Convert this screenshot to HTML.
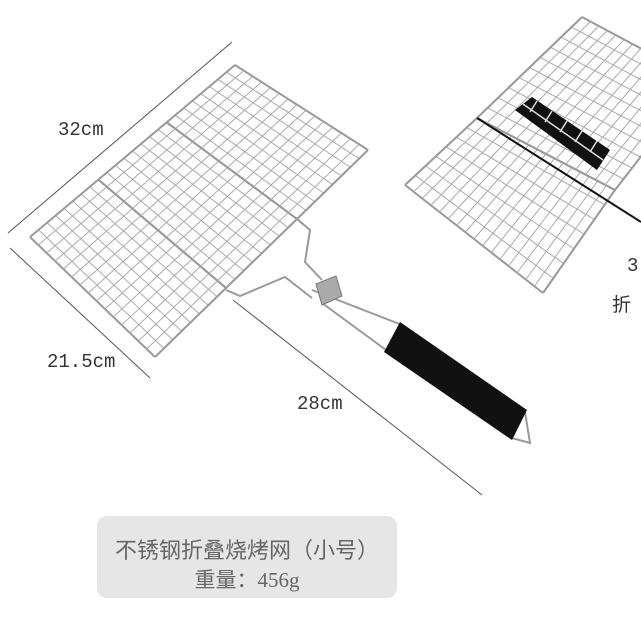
<!DOCTYPE html>
<html><head><meta charset="utf-8"><style>
html,body{margin:0;padding:0;background:#fff;width:641px;height:641px;overflow:hidden}
.t{position:absolute;font-family:"Liberation Mono","Noto Serif CJK SC",monospace;color:#333;font-size:19px}
#box{position:absolute;left:97px;top:516px;width:300px;height:82px;background:#e6e6e6;border-radius:10px}
.c{position:absolute;width:300px;text-align:center;color:#666;font-family:"Liberation Serif","Noto Sans CJK SC",sans-serif}
</style></head><body>
<svg id="s" width="641" height="641" style="position:absolute;left:0;top:0">
<g stroke="#555" stroke-width="1">
<line x1="8" y1="233" x2="232" y2="42"/>
<line x1="10" y1="248" x2="150" y2="378"/>
<line x1="233" y1="300" x2="482" y2="495"/>
</g>
<g id="mesh" fill="none" stroke="#aaa" stroke-width="1"></g>
<g fill="none" stroke="#999" stroke-width="2">
<polyline points="226,290 240,296 285,277 312,298"/>
<polyline points="297,219 310,230 305,262 322,280"/>
<line x1="312" y1="290" x2="402" y2="325"/>
<line x1="322" y1="303" x2="386" y2="350"/>
<polyline points="512,438 530,443 525,412"/>
</g>
<polygon points="316,284 336,276 342,296 322,305" fill="#aaa" stroke="#777"/>
<polygon points="400,322 527,410 512,440 384,352" fill="#111"/>
<polygon points="515,110 532,97 610,150 597,170" fill="#111"/>
<g stroke="#ddd" stroke-width="1.5">
<line x1="523" y1="104" x2="603" y2="160"/>
<line x1="530" y1="112" x2="537" y2="101"/><line x1="545" y1="122" x2="552" y2="111"/>
<line x1="560" y1="132" x2="567" y2="121"/><line x1="575" y1="142" x2="582" y2="131"/>
<line x1="590" y1="152" x2="597" y2="141"/>
</g>
<line x1="477" y1="118" x2="641" y2="222" stroke="#111" stroke-width="2"/>
</svg>
<div class="t" style="left:58px;top:119px">32cm</div>
<div class="t" style="left:47px;top:351px">21.5cm</div>
<div class="t" style="left:297px;top:393px">28cm</div>
<div class="t" style="left:627px;top:255px">3</div>
<div class="t" style="left:612px;top:290px;font-family:'Noto Sans CJK SC',sans-serif">折</div>
<div id="box"></div>
<div class="c" style="left:97px;top:533px;font-size:22px">不锈钢折叠烧烤网（小号）</div>
<div class="c" style="left:97px;top:564px;font-size:21px">重量：456g</div>
<script>
var g=document.getElementById('mesh'),ns='http://www.w3.org/2000/svg';
function L(a,b,w,c){var l=document.createElementNS(ns,'line');l.setAttribute('x1',a[0]);l.setAttribute('y1',a[1]);l.setAttribute('x2',b[0]);l.setAttribute('y2',b[1]);if(w)l.setAttribute('stroke-width',w);if(c)l.setAttribute('stroke',c);g.appendChild(l);}
function P(q,u,v){var x=(1-u)*(1-v)*q[0][0]+u*(1-v)*q[1][0]+u*v*q[2][0]+(1-u)*v*q[3][0];var y=(1-u)*(1-v)*q[0][1]+u*(1-v)*q[1][1]+u*v*q[2][1]+(1-u)*v*q[3][1];return[x,y];}
function M(q,nu,nv){for(var i=0;i<=nu;i++){var u=i/nu;L(P(q,u,0),P(q,u,1),(i==0||i==nu)?2:1,(i==0||i==nu)?'#999':null);}for(var j=0;j<=nv;j++){var v=j/nv;L(P(q,0,v),P(q,1,v),(j==0||j==nv)?2:1,(j==0||j==nv)?'#999':null);}}
var A=[30,237],B=[235,65],C=[368,150],D=[155,357];
function lerp(a,b,t){return[a[0]+(b[0]-a[0])*t,a[1]+(b[1]-a[1])*t];}
for(var k=0;k<3;k++){var q=[lerp(A,B,k/3),lerp(A,B,(k+1)/3),lerp(D,C,(k+1)/3),lerp(D,C,k/3)];M(q,8,15);}
M([[405,185],[477,118],[615,190],[543,293]],7,16);
M([[477,118],[582,17],[700,80],[615,190]],10,14);
</script>
</body></html>
